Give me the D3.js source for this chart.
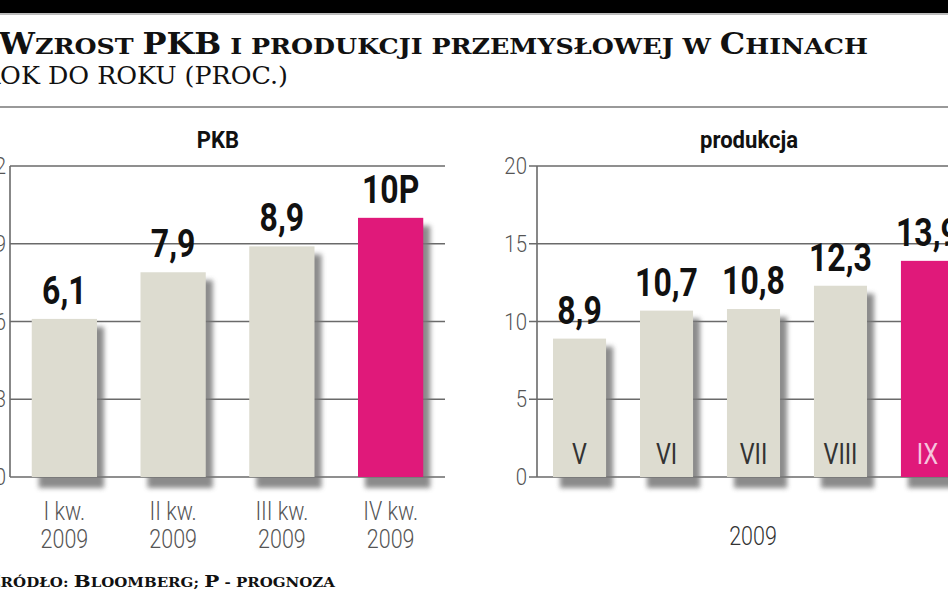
<!DOCTYPE html>
<html><head><meta charset="utf-8">
<script src="https://cdn.jsdelivr.net/npm/d3@7"></script>
<style>html,body{margin:0;padding:0;background:#fff;overflow:hidden}svg{display:block}</style>
</head><body>
<script>
// ---- data ----
const gdpQuarters = ["I kw.", "II kw.", "III kw.", "IV kw."];
const gdpYear = "2009";
const gdpValues = [6.1, 7.9, 8.9, 10];
const gdpLabels = ["6,1", "7,9", "8,9", "10P"];
const gdpTicks = [0, 3, 6, 9, 12];

const prodMonths = ["V", "VI", "VII", "VIII", "IX"];
const prodYear = "2009";
const prodValues = [8.9, 10.7, 10.8, 12.3, 13.9];
const prodTicks = [0, 5, 10, 15, 20];

const W = 948, H = 593;
const grey = "#dddcd0", pink = "#e0197a", gridC = "#6a6a6a";

const svg = d3.select("body").append("svg").attr("width", W).attr("height", H);
const defs = svg.append("defs");
const f = defs.append("filter").attr("id", "sh").attr("x", "-30%").attr("y", "-30%").attr("width", "160%").attr("height", "160%");
f.append("feGaussianBlur").attr("stdDeviation", 2.5);

// header
svg.append("rect").attr("x", 0).attr("y", 0).attr("width", W).attr("height", 13).attr("fill", "#000");
svg.append("rect").attr("x", 0).attr("y", 13).attr("width", W).attr("height", 2).attr("fill", "#bbb");
svg.append("rect").attr("x", 0).attr("y", 106).attr("width", W).attr("height", 2).attr("fill", "#999");

function smallCaps(sel, parts, big, small) {
  parts.forEach(p => sel.append("tspan").attr("font-size", p[1] ? big : small).text(p[0].toUpperCase()));
}
const title = svg.append("text").attr("x", -1).attr("y", 54)
  .attr("font-family", "DejaVu Serif").attr("font-weight", "bold").attr("fill", "#111")
  .attr("textLength", 869).attr("lengthAdjust", "spacingAndGlyphs");
smallCaps(title, [["W", 1], ["zrost ", 0], ["PKB", 1], [" i produkcji przemysłowej w ", 0], ["C", 1], ["hinach", 0]], 29, 23);

svg.append("text").attr("x", -19).attr("y", 84)
  .attr("font-family", "DejaVu Serif").attr("font-size", 24).attr("fill", "#111")
  .attr("textLength", 307).attr("lengthAdjust", "spacingAndGlyphs")
  .text("ROK DO ROKU (PROC.)");

const src = svg.append("text").attr("x", -14).attr("y", 587)
  .attr("font-family", "DejaVu Serif").attr("font-weight", "bold").attr("fill", "#111")
  .attr("textLength", 349).attr("lengthAdjust", "spacingAndGlyphs");
smallCaps(src, [["Ź", 1], ["ródło: ", 0], ["B", 1], ["loomberg; ", 0], ["P", 1], [" - prognoza", 0]], 16, 12);

function panel(opts) {
  const g = svg.append("g");
  const x = d3.scaleBand().domain(opts.cats).range(opts.xr).paddingInner(opts.pi).paddingOuter(opts.po);
  const y = d3.scaleLinear().domain([0, d3.max(opts.ticks)]).range([477, 166]);
  // grid
  g.selectAll(".grid").data(opts.ticks).join("line")
    .attr("x1", opts.xr[0] - opts.tickOut).attr("x2", opts.xr[1]).attr("y1", d => y(d)).attr("y2", d => y(d))
    .attr("stroke", gridC).attr("stroke-width", 1.6);
  g.append("line").attr("x1", opts.xr[0]).attr("x2", opts.xr[0]).attr("y1", y(d3.max(opts.ticks))).attr("y2", y(0))
    .attr("stroke", gridC).attr("stroke-width", 1.6);
  // tick labels
  g.selectAll(".tl").data(opts.ticks).join("text")
    .attr("transform", d => `translate(${opts.tlx},${y(d) + 8}) scale(0.85,1)`)
    .attr("text-anchor", "end").attr("font-family", "Roboto").attr("font-weight", 300)
    .attr("font-size", 24).attr("fill", "#555").text(d => d);
  // shadows
  g.selectAll(".sh").data(opts.vals).join("rect")
    .attr("x", (d, i) => x(opts.cats[i]) + 7).attr("y", d => y(d) + 8)
    .attr("width", x.bandwidth()).attr("height", d => y(0) - y(d) + 3)
    .attr("fill", "#777").attr("opacity", 0.85).attr("filter", "url(#sh)");
  // bars
  g.selectAll(".bar").data(opts.vals).join("rect")
    .attr("x", (d, i) => x(opts.cats[i])).attr("y", d => y(d))
    .attr("width", x.bandwidth()).attr("height", d => y(0) - y(d))
    .attr("fill", (d, i) => i === opts.vals.length - 1 ? pink : grey);
  // value labels
  g.selectAll(".vl").data(opts.vals).join("text")
    .attr("transform", (d, i) => `translate(${x(opts.cats[i]) + x.bandwidth() / 2},${y(d) - 15}) scale(0.82,1)`)
    .attr("text-anchor", "middle").attr("font-family", "Roboto").attr("font-weight", "bold")
    .attr("font-size", 39).attr("fill", "#111").text((d, i) => opts.labels[i]);
  // panel title
  g.append("text").attr("transform", `translate(${opts.titleX},148) scale(0.92,1)`).attr("text-anchor", "middle")
    .attr("font-family", "Roboto").attr("font-weight", "bold").attr("font-size", 24).attr("fill", "#111")
    .text(opts.title);
  return {g, x, y};
}

// GDP panel
const p1 = panel({cats: gdpQuarters, vals: gdpValues, labels: gdpLabels, ticks: gdpTicks,
  xr: [10, 445], pi: 0.4, po: 0.2, tlx: 6, tickOut: 0, title: "PKB", titleX: 218});
p1.g.selectAll(".xl").data(gdpQuarters).join("text")
  .attr("transform", d => `translate(${p1.x(d) + p1.x.bandwidth() / 2},520) scale(0.86,1)`)
  .attr("text-anchor", "middle").attr("font-family", "Roboto").attr("font-weight", 300)
  .attr("font-size", 25).attr("fill", "#555").text(d => d);
p1.g.selectAll(".xy").data(gdpQuarters).join("text")
  .attr("transform", d => `translate(${p1.x(d) + p1.x.bandwidth() / 2},548) scale(0.86,1)`)
  .attr("text-anchor", "middle").attr("font-family", "Roboto").attr("font-weight", 300)
  .attr("font-size", 25).attr("fill", "#555").text(gdpYear);

// production panel
const prodLabels = prodValues.map(v => String(v).replace(".", ","));
const p2 = panel({cats: prodMonths, vals: prodValues, labels: prodLabels, ticks: prodTicks,
  xr: [537, 970], pi: 0.39, po: 0.184, tlx: 527, tickOut: 8, title: "produkcja", titleX: 749});
p2.g.selectAll(".ml").data(prodMonths).join("text")
  .attr("transform", d => `translate(${p2.x(d) + p2.x.bandwidth() / 2},464) scale(0.78,1)`)
  .attr("text-anchor", "middle").attr("font-family", "Roboto").attr("font-weight", 400)
  .attr("font-size", 30).attr("fill", (d, i) => i === prodMonths.length - 1 ? "#f6c6de" : "#333").text(d => d);
svg.append("text").attr("transform", `translate(753,545) scale(0.86,1)`)
  .attr("text-anchor", "middle").attr("font-family", "Roboto").attr("font-weight", 300)
  .attr("font-size", 25).attr("fill", "#333").text(prodYear);
</script>
</body></html>
